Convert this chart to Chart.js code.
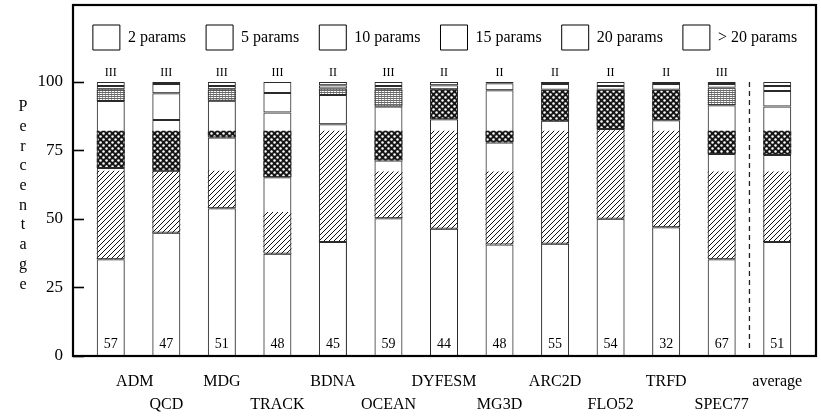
<!DOCTYPE html>
<html><head><meta charset="utf-8">
<script src="https://cdn.jsdelivr.net/npm/chart.js@4.4.1/dist/chart.umd.min.js"></script>
<style>html,body{margin:0;padding:0;background:#fff}</style>
</head><body>
<canvas id="c" width="821" height="416"></canvas>
<script>
// ---- data ----
const categories = ['ADM','QCD','MDG','TRACK','BDNA','OCEAN','DYFESM','MG3D','ARC2D','FLO52','TRFD','SPEC77','average'];
const seriesNames = ['2 params','5 params','10 params','15 params','20 params','> 20 params'];
const params2      = [35.3, 45.0, 53.9, 37.3, 41.6, 50.3, 46.4, 40.7, 41.0, 50.1, 47.0, 35.3, 41.6];
const params5      = [33.3, 22.6, 25.8, 27.9, 43.0, 21.0, 40.0, 37.2, 44.8, 32.7, 39.0, 38.4, 31.7];
const params10     = [24.4, 18.5, 13.4, 23.6, 10.6, 19.7, 10.9, 19.1, 11.3, 14.3, 11.1, 17.8, 17.7];
const params15     = [4.3, 9.8, 4.2, 7.2, 2.4, 6.3, 1.5, 2.5, 2.1, 1.4, 2.1, 6.4, 5.7];
const params20     = [1.2, 3.3, 1.2, 4.0, 1.2, 1.2, 1.2, 0.5, 0.8, 1.5, 0.8, 1.3, 1.8];
const paramsOver20 = [1.5, 0.8, 1.5, 0.0, 1.2, 1.5, 0.0, 0.0, 0.0, 0.0, 0.0, 0.8, 1.5];
// visible extents of the printed fill textures (percent)
const diagBand  = [[35.3,67.6],[45,67.6],[53.9,67.6],[37.3,52.5],[41.6,82.2],[50.3,67.3],[46.4,82.2],[40.7,67.3],[41,82.2],[50.1,82.4],[47,82.2],[35.3,67.3],[41.6,67.3]];
const crossBand = [[68.6,82.2],[67.6,82.2],[79.7,82.2],[65.2,82.2],null,[71.3,82.2],[86.4,97.3],[77.9,82.2],[85.8,97.1],[82.8,97.1],[86,97.1],[73.7,82.2],[73.3,82.2]];
const gridBand  = [[93,97.3],null,[93.1,97.3],null,[95.5,97.6],[91,97.3],null,null,null,null,null,[91.5,97.3],null];
const counts    = [57, 47, 51, 48, 45, 59, 44, 48, 55, 54, 32, 67, 51];
const levels    = ['III','III','III','III','II','III','II','II','II','II','II','III',''];
const yTicks    = [0, 25, 50, 75, 100];
const yTitle    = 'Percentage';

// ---- textures ----
function tile(w, h, draw){ const c=document.createElement('canvas'); c.width=w; c.height=h; const g=c.getContext('2d'); draw(g); return g.createPattern(c,'repeat'); }
const diagPat = tile(5,5,g=>{ g.strokeStyle='#111'; g.lineWidth=1; g.beginPath(); g.moveTo(0,5); g.lineTo(5,0); g.moveTo(-1,1); g.lineTo(1,-1); g.moveTo(4,6); g.lineTo(6,4); g.stroke(); });
const crossPat = tile(6,6,g=>{ g.fillStyle='#151515'; g.fillRect(0,0,6,6); g.fillStyle='#fff'; g.beginPath(); g.arc(1.5,1.5,1.25,0,Math.PI*2); g.fill(); g.beginPath(); g.arc(4.5,4.5,1.25,0,Math.PI*2); g.fill(); });
const gridPat = tile(3,2,g=>{ g.fillStyle='#fff'; g.fillRect(0,0,3,2); g.fillStyle='#6a6a6a'; g.fillRect(0,0,3,1); g.fillStyle='#9a9a9a'; g.fillRect(0,1,1,1); });

const serif = 'Liberation Serif, Times New Roman, serif';
const seriesData = [params2, params5, params10, params15, params20, paramsOver20];
const datasets = seriesData.map((d,i)=>({
  label: seriesNames[i], data: d, order: 0, stack: 'main', grouped: false,
  backgroundColor: 'rgba(0,0,0,0)', borderColor: '#2a2a2a', borderWidth: 1, borderSkipped: false,
  barPercentage: 0.504, categoryPercentage: 1
}));
[[diagBand,diagPat,'d'],[crossBand,crossPat,'c'],[gridBand,gridPat,'g']].forEach(([d,p,s])=>{
  datasets.push({ label: 'tex-'+s, data: d, stack: s, grouped: false, order: 1,
    backgroundColor: p, borderWidth: 0, barPercentage: 0.504, categoryPercentage: 1 });
});

const deco = {
  id: 'deco',
  afterLayout(chart){
    const lg = chart.legend; if (lg){ lg.left = 40; lg.right = 850; lg.width = 810; }
  },
  afterDraw(chart){
    const ctx = chart.ctx, y = chart.scales.y, x = chart.scales.x;
    const L = 73, R = 816, T = 5, B = y.getPixelForValue(0);
    ctx.save();
    ctx.strokeStyle = '#000'; ctx.lineWidth = 2.2;
    ctx.strokeRect(L, T, R - L, B - T);
    ctx.lineWidth = 1.6;
    yTicks.forEach(v=>{ const py = Math.round(y.getPixelForValue(v))+0.5; ctx.beginPath(); ctx.moveTo(L, py); ctx.lineTo(L+11, py); ctx.stroke(); });
    const xs = (x.getPixelForValue(categories.length-2) + x.getPixelForValue(categories.length-1))/2;
    ctx.setLineDash([5,4]); ctx.lineWidth = 1.3; ctx.strokeStyle = '#222';
    ctx.beginPath(); ctx.moveTo(xs, y.getPixelForValue(100)); ctx.lineTo(xs, B - 4); ctx.stroke();
    ctx.setLineDash([]);
    ctx.fillStyle = '#000'; ctx.font = '16px ' + serif; ctx.textAlign = 'center'; ctx.textBaseline = 'middle';
    [...yTitle].forEach((ch,i)=> ctx.fillText(ch, 23, 107 + i*19.7));
    ctx.font = '14px ' + serif;
    counts.forEach((n,i)=> ctx.fillText(String(n), x.getPixelForValue(i), B - 12));
    ctx.font = '12px ' + serif;
    levels.forEach((t,i)=>{ if(t) ctx.fillText(t, x.getPixelForValue(i), y.getPixelForValue(100) - 9); });
    ctx.restore();
  }
};

new Chart(document.getElementById('c'), {
  type: 'bar',
  data: { labels: categories, datasets },
  options: {
    responsive: false, animation: false, devicePixelRatio: 1,
    layout: { padding: { top: 5, right: 16, bottom: 0, left: 0 } },
    plugins: {
      tooltip: { enabled: false },
      legend: {
        position: 'top',
        labels: {
          boxWidth: 27, boxHeight: 25, padding: 20, color: '#000',
          font: { family: serif, size: 16 },
          filter: item => item.datasetIndex < seriesNames.length,
          generateLabels: chart => Chart.defaults.plugins.legend.labels.generateLabels(chart)
            .map(l => Object.assign(l, { fillStyle: '#fff', strokeStyle: '#000', lineWidth: 1 }))
        }
      }
    },
    scales: {
      x: {
        stacked: true, offset: true,
        afterFit: s => { s.height = 60; },
        grid: { display: false, drawTicks: false }, border: { display: false },
        ticks: {
          autoSkip: false, maxRotation: 0, padding: 14, color: '#000',
          font: { family: serif, size: 16, lineHeight: 1.45 },
          callback: (v, i) => i === 0 ? [' '.repeat(12) + categories[i], '']
                              : (i % 2 === 0 ? [categories[i], ''] : ['', categories[i]])
        }
      },
      y: {
        stacked: true, min: 0, max: 108,
        afterFit: s => { s.width = 83; },
        afterBuildTicks: s => { s.ticks = yTicks.map(v => ({ value: v })); },
        grid: { display: false, drawTicks: false }, border: { display: false },
        ticks: { padding: 20, color: '#000', font: { family: serif, size: 17 } }
      }
    }
  },
  plugins: [deco]
});
</script>
</body></html>
